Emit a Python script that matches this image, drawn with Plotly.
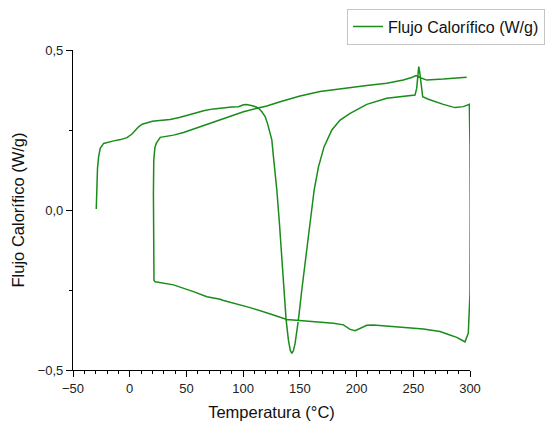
import plotly.graph_objects as go

# First heating run: temperature (°C) and heat flow (W/g)
heat1_temp = [-29.5, -29.3, -29.0, -28.4, -27.4, -26.0, -23.0, -18.5, -14.2, -8.0,
              -2.4, 2.0, 5.0, 7.8, 11.0, 15.2, 20.0, 24.0, 30.0, 35.7,
              44.5, 52.0, 59.2, 66.0, 73.9, 80.0, 85.7, 90.0, 95.9, 98.5,
              100.3, 103.0, 106.2, 109.0, 112.1, 114.5, 116.5, 119.4, 121.5, 123.8,
              125.3, 126.7, 129.7, 132.0, 134.1, 136.1, 137.9, 139.9, 141.5, 142.9,
              144.3, 145.8, 148.7, 151.7, 155.5, 159.0, 162.6, 166.4, 171.4, 178.2,
              185.5, 194.3, 209.0, 226.6, 244.2, 251.5, 253.0, 253.9, 254.8, 255.7,
              256.6, 258.3, 263.3, 276.5, 286.8, 294.1, 299.4, 300.0, 300.2, 300.0,
              298.5, 295.6]
heat1_flow = [0.003, 0.03, 0.073, 0.13, 0.167, 0.193, 0.208, 0.213, 0.216, 0.220,
              0.226, 0.2375, 0.250, 0.260, 0.268, 0.273, 0.277, 0.279, 0.281, 0.283,
              0.290, 0.298, 0.305, 0.311, 0.316, 0.319, 0.321, 0.322, 0.323, 0.326,
              0.329, 0.3295, 0.328, 0.325, 0.321, 0.315, 0.307, 0.292, 0.270, 0.240,
              0.219, 0.167, 0.0625, -0.042, -0.146, -0.250, -0.344, -0.406, -0.438, -0.448,
              -0.440, -0.417, -0.344, -0.250, -0.146, -0.042, 0.0625, 0.135, 0.198, 0.250,
              0.281, 0.302, 0.330, 0.349, 0.357, 0.359, 0.380, 0.430, 0.448, 0.430,
              0.401, 0.354, 0.346, 0.330, 0.320, 0.323, 0.330, 0.200, 0.000, -0.260,
              -0.385, -0.412]

# Cooling run (300 °C back down to about 20 °C)
cool_temp = [293.0, 288.3, 281.0, 273.6, 258.9, 238.3, 214.8, 209.0, 203.1, 198.7,
             194.3, 188.4, 179.6, 162.0, 147.3, 138.5, 126.7, 106.2, 82.7, 79.8,
             68.0, 56.2, 38.6, 22.5, 21.4]
cool_flow = [-0.407, -0.398, -0.389, -0.380, -0.372, -0.365, -0.359, -0.360, -0.370, -0.377,
             -0.373, -0.359, -0.354, -0.349, -0.346, -0.342, -0.328, -0.305, -0.283, -0.279,
             -0.271, -0.255, -0.234, -0.224, -0.220]

# Second heating run
heat2_temp = [21.0, 20.9, 21.2, 22.2, 23.4, 26.9, 38.6, 47.4, 62.1, 79.8,
              94.5, 100.3, 112.1, 120.9, 132.6, 150.2, 167.8, 188.4, 209.0, 226.6,
              241.2, 248.6, 252.4, 255.9, 261.8, 276.5, 297.1]
heat2_flow = [-0.100, 0.050, 0.156, 0.195, 0.208, 0.227, 0.234, 0.242, 0.260, 0.281,
              0.299, 0.307, 0.318, 0.325, 0.338, 0.356, 0.370, 0.380, 0.389, 0.396,
              0.406, 0.414, 0.420, 0.414, 0.406, 0.409, 0.415]

temperature = heat1_temp + cool_temp + heat2_temp
heat_flow = heat1_flow + cool_flow + heat2_flow

FONT = "Arial, Liberation Sans, sans-serif"

fig = go.Figure()
fig.add_trace(go.Scatter(
    x=temperature, y=heat_flow, mode="lines",
    name="Flujo Calorífico (W/g)",
    line=dict(color="#1a8c1a", width=1.5),
))

axis_common = dict(
    showline=True, linecolor="#000000", linewidth=1.2,
    ticks="outside", ticklen=6, tickwidth=1.2, tickcolor="#000000",
    showgrid=False, zeroline=False, mirror=False,
    tickfont=dict(family=FONT, size=13, color="#222222"),
)

fig.update_xaxes(
    range=[-50, 300], tick0=-50, dtick=50,
    title=dict(text="Temperatura (°C)", font=dict(family=FONT, size=16.5, color="#111111"), standoff=12),
    minor=dict(dtick=10, ticks="outside", ticklen=3, tickwidth=1.2, tickcolor="#000000"),
    **axis_common,
)
fig.update_yaxes(
    range=[-0.5, 0.5], tick0=-0.5, dtick=0.5, tickformat=".1f",
    title=dict(text="Flujo Calorífico (W/g)", font=dict(family=FONT, size=16.5, color="#111111"), standoff=8),
    minor=dict(dtick=0.25, ticks="outside", ticklen=3, tickwidth=1.2, tickcolor="#000000"),
    **axis_common,
)

fig.update_layout(
    width=550, height=421,
    margin=dict(l=73, r=80, t=50, b=51, autoexpand=False),
    plot_bgcolor="white", paper_bgcolor="white",
    separators=",.",
    showlegend=True,
    legend=dict(
        x=1.189, y=1.129, xanchor="right", yanchor="top",
        bgcolor="white", bordercolor="#c4c4c4", borderwidth=1,
        font=dict(family=FONT, size=16, color="#111111"),
        itemwidth=30,
    ),
)

fig.write_html("out.html")
